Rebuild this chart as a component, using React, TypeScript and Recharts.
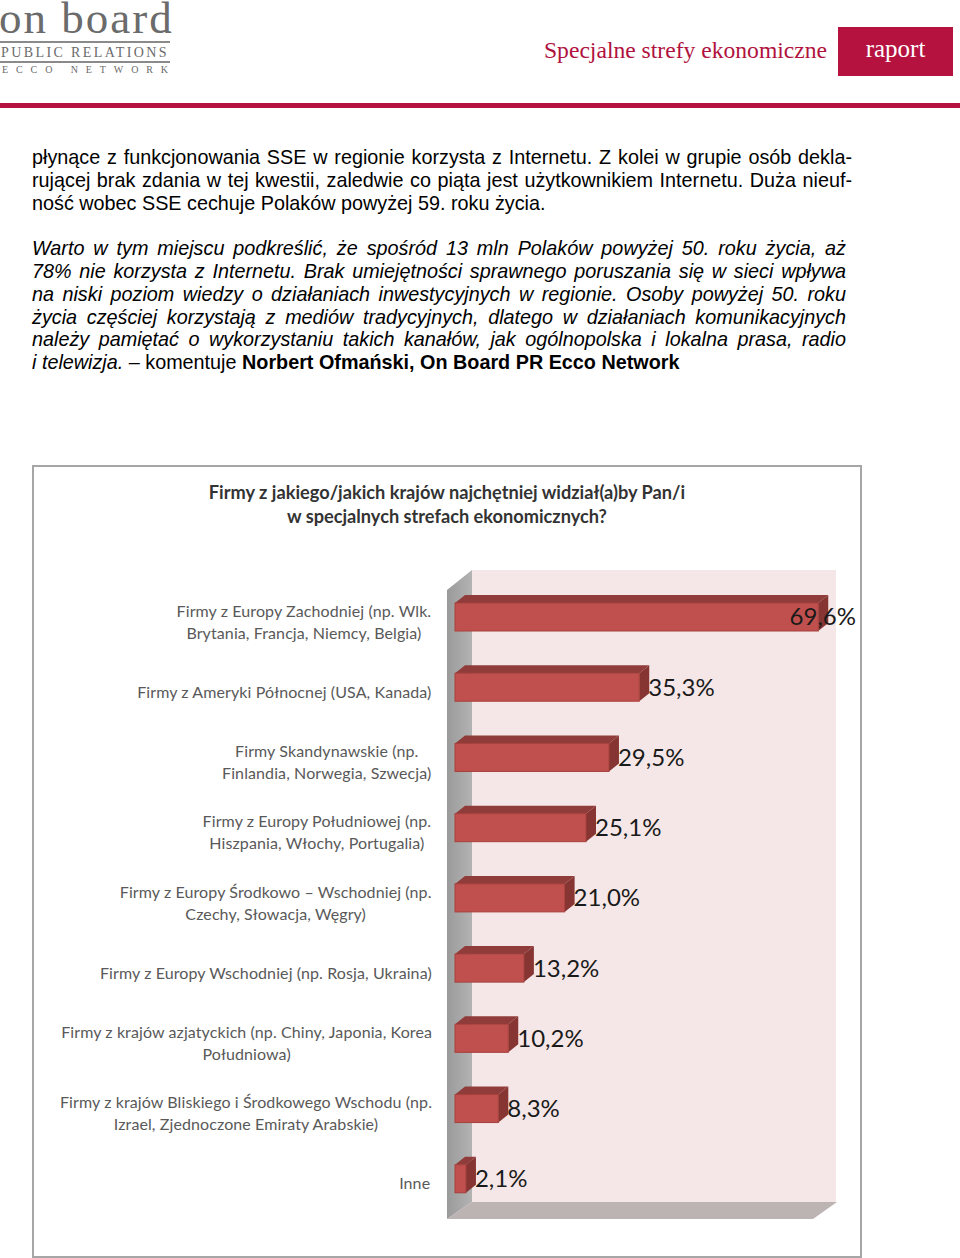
import React from 'react';
import { BarChart, Bar, XAxis, YAxis, LabelList } from 'recharts';

// kategorie (linie rozdzielone \n jak na wykresie)
const categories = [
  'Firmy z Europy Zachodniej (np. Wlk.\nBrytania, Francja, Niemcy, Belgia)',
  'Firmy z Ameryki Północnej (USA, Kanada)',
  'Firmy Skandynawskie (np.\nFinlandia, Norwegia, Szwecja)',
  'Firmy z Europy Południowej (np.\nHiszpania, Włochy, Portugalia)',
  'Firmy z Europy Środkowo – Wschodniej (np.\nCzechy, Słowacja, Węgry)',
  'Firmy z Europy Wschodniej (np. Rosja, Ukraina)',
  'Firmy z krajów azjatyckich (np. Chiny, Japonia, Korea\nPołudniowa)',
  'Firmy z krajów Bliskiego i Środkowego Wschodu (np.\nIzrael, Zjednoczone Emiraty Arabskie)',
  'Inne',
];
const values = [69.6, 35.3, 29.5, 25.1, 21.0, 13.2, 10.2, 8.3, 2.1];
const xDomain = [0, 73];

const data = categories.map((name, i) => ({ name, value: values[i] }));

const CHART_W = 830;
const CHART_H = 793;
const MARGIN = { top: 122, right: 26, bottom: 39, left: 0 };
const AXIS_W = 423;
const CHART_FONT = 'Lato, "Open Sans", sans-serif';
const TICK_SIZE = 16;

let ctx: CanvasRenderingContext2D | null = null;
function textWidth(s: string, font: string) {
  if (!ctx) ctx = document.createElement('canvas').getContext('2d');
  if (!ctx) return s.length * 8;
  ctx.font = font;
  return ctx.measureText(s).width;
}

const CategoryTick = (props: any) => {
  const { x, y, payload } = props;
  const lines = String(payload.value).split('\n');
  const w = Math.max(...lines.map((l) => textWidth(l, `${TICK_SIZE}px Lato`)));
  const cx = x - 17 - w / 2;
  const lh = 22;
  const y0 = y - ((lines.length - 1) * lh) / 2;
  return (
    <text x={cx} y={y0} textAnchor="middle" fill="#595959" fontSize={TICK_SIZE} fontFamily={CHART_FONT} letterSpacing={0.1}>
      {lines.map((l, i) => (
        <tspan key={i} x={cx} y={y0 + i * lh} dy="0.35em">{l}</tspan>
      ))}
    </text>
  );
};

const Bar3D = (props: any) => {
  const { x, y, width, height } = props;
  const fy = y - 5;
  const d = 10;
  const e = 8;
  return (
    <g>
      <polygon points={`${x},${fy} ${x + d},${fy - e} ${x + width + d},${fy - e} ${x + width},${fy}`} fill="#8f3c3a" />
      <polygon points={`${x + width},${fy} ${x + width + d},${fy - e} ${x + width + d},${fy + height - e} ${x + width},${fy + height}`} fill="#863533" />
      <rect x={x} y={fy} width={width} height={height} fill="#c0504d" stroke="#a6403d" strokeWidth={1} />
    </g>
  );
};

const ValueLabel = (props: any) => {
  const { x, y, width, value } = props;
  const txt = `${Number(value).toFixed(1).replace('.', ',')}%`;
  const font = '24px Lato';
  const w = textWidth(txt, font);
  let tx = x + width + 9;
  if (tx + w > CHART_W - 6) tx = CHART_W - 6 - w;
  return (
    <text x={tx} y={y + 9} dy="0.35em" fontSize={24} fontFamily={CHART_FONT} fill="#1a1a1a">{txt}</text>
  );
};

// tło 3D (ściany) w układzie wykresu
const Walls = () => {
  const L = MARGIN.left + AXIS_W;
  const R = CHART_W - MARGIN.right;
  const B = CHART_H - MARGIN.bottom;
  const backL = L + 17;
  const backT = MARGIN.top - 17;
  const backB = B - 17;
  const frontL = L - 8;
  return (
    <svg width={CHART_W} height={CHART_H} style={{ position: 'absolute', left: 0, top: 0 }}>
      <defs>
        <linearGradient id="wallG" x1="0" x2="1" y1="0" y2="0">
          <stop offset="0" stopColor="#9a9a9a" />
          <stop offset="1" stopColor="#b3b3b3" />
        </linearGradient>
      </defs>
      <rect x={backL} y={backT} width={R - backL} height={backB - backT} fill="#f5e7e7" />
      <polygon points={`${frontL},${backT + 20} ${backL},${backT} ${backL},${backB} ${frontL},${B}`} fill="url(#wallG)" />
      <polygon points={`${frontL},${B} ${backL},${backB} ${R + 1},${backB} ${R - 23},${B}`} fill="#bcb3b3" />
    </svg>
  );
};

const bodyText: React.CSSProperties = {
  position: 'absolute',
  left: 32,
  fontFamily: '"Liberation Sans", Arial, sans-serif',
  fontSize: 19.8,
  lineHeight: '22.8px',
  color: '#000',
  whiteSpace: 'nowrap',
};

const lineTop = (k: number) => 146 + k * 22.8;

const justify = (w: number): React.CSSProperties => ({ width: w, textAlign: 'justify', textAlignLast: 'justify' });

export default function App() {
  return (
    <div style={{ position: 'absolute', left: 0, top: 0, width: 960, height: 1258, background: '#fff', overflow: 'hidden' }}>
      {/* nagłówek */}
      <div style={{ position: 'absolute', left: -1, top: 0, fontFamily: '"Liberation Serif", serif', fontSize: 45, lineHeight: '36px', color: '#6b6b6b', letterSpacing: 2 }}>on board</div>
      <div style={{ position: 'absolute', left: 0, top: 41, width: 170, height: 2, background: '#8a8a8a' }} />
      <div style={{ position: 'absolute', left: 1, top: 45, fontFamily: '"Liberation Serif", serif', fontSize: 14, color: '#6b6b6b', letterSpacing: 2.4 }}>PUBLIC RELATIONS</div>
      <div style={{ position: 'absolute', left: 0, top: 61, width: 170, height: 2, background: '#8a8a8a' }} />
      <div style={{ position: 'absolute', left: 2, top: 64, fontFamily: '"Liberation Serif", serif', fontSize: 10, color: '#6b6b6b', letterSpacing: 7.9 }}>ECCO NETWORK</div>
      <div style={{ position: 'absolute', left: 544, top: 37, fontFamily: '"Liberation Serif", serif', fontSize: 23.6, color: '#b0123e' }}>Specjalne strefy ekonomiczne</div>
      <div style={{ position: 'absolute', left: 838, top: 27, width: 115, height: 49, background: '#b5123f', color: '#fff', fontFamily: '"Liberation Serif", serif', fontSize: 25, textAlign: 'center', lineHeight: '44px' }}>raport</div>
      <div style={{ position: 'absolute', left: 0, top: 103, width: 960, height: 5, background: '#b5123f' }} />

      {/* tekst */}
      <div style={{ ...bodyText, top: lineTop(0), ...justify(820) }}>płynące z funkcjonowania SSE w regionie korzysta z Internetu. Z kolei w grupie osób dekla-</div>
      <div style={{ ...bodyText, top: lineTop(1), ...justify(820) }}>rującej brak zdania w tej kwestii, zaledwie co piąta jest użytkownikiem Internetu. Duża nieuf-</div>
      <div style={{ ...bodyText, top: lineTop(2) }}>ność wobec SSE cechuje Polaków powyżej 59. roku życia.</div>
      <div style={{ ...bodyText, top: lineTop(4), fontStyle: 'italic', ...justify(814) }}>Warto w tym miejscu podkreślić, że spośród 13 mln Polaków powyżej 50. roku życia, aż</div>
      <div style={{ ...bodyText, top: lineTop(5), fontStyle: 'italic', ...justify(814) }}>78% nie korzysta z Internetu. Brak umiejętności sprawnego poruszania się w sieci wpływa</div>
      <div style={{ ...bodyText, top: lineTop(6), fontStyle: 'italic', ...justify(814) }}>na niski poziom wiedzy o działaniach inwestycyjnych w regionie. Osoby powyżej 50. roku</div>
      <div style={{ ...bodyText, top: lineTop(7), fontStyle: 'italic', ...justify(814) }}>życia częściej korzystają z mediów tradycyjnych, dlatego w działaniach komunikacyjnych</div>
      <div style={{ ...bodyText, top: lineTop(8), fontStyle: 'italic', ...justify(814) }}>należy pamiętać o wykorzystaniu takich kanałów, jak ogólnopolska i lokalna prasa, radio</div>
      <div style={{ ...bodyText, top: lineTop(9) }}>
        <i>i telewizja.</i> – komentuje <b>Norbert Ofmański, On Board PR Ecco Network</b>
      </div>

      {/* wykres */}
      <div style={{ position: 'absolute', left: 32, top: 465, width: CHART_W, height: CHART_H }}>
        <Walls />
        <div style={{ position: 'absolute', left: 0, top: 15, width: CHART_W, textAlign: 'center', fontFamily: CHART_FONT, fontWeight: 700, fontSize: 18.2, lineHeight: '24px', color: '#333' }}>
          Firmy z jakiego/jakich krajów najchętniej widział(a)by Pan/i<br />w specjalnych strefach ekonomicznych?
        </div>
        <div style={{ position: 'absolute', left: 0, top: 0 }}>
          <BarChart width={CHART_W} height={CHART_H} data={data} layout="vertical" margin={MARGIN}>
            <XAxis type="number" domain={xDomain} hide />
            <YAxis type="category" dataKey="name" width={AXIS_W} axisLine={false} tickLine={false} tick={<CategoryTick />} interval={0} />
            <Bar dataKey="value" barSize={28} shape={<Bar3D />} isAnimationActive={false}>
              <LabelList dataKey="value" content={<ValueLabel />} />
            </Bar>
          </BarChart>
        </div>
        <div style={{ position: 'absolute', left: 0, top: 0, width: CHART_W, height: CHART_H, boxSizing: 'border-box', border: '2px solid #a6a6a6' }} />
      </div>
    </div>
  );
}
